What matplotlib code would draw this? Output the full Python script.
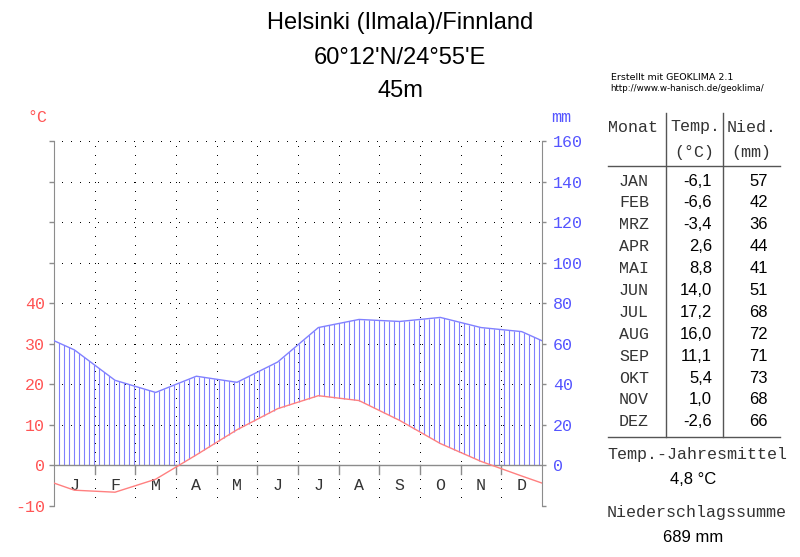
import numpy as np
import matplotlib
matplotlib.use("Agg")
import matplotlib.pyplot as plt
from matplotlib.lines import Line2D

# ---------------- data ----------------
months_short = ["J", "F", "M", "A", "M", "J", "J", "A", "S", "O", "N", "D"]
months_table = ["JAN", "FEB", "MRZ", "APR", "MAI", "JUN", "JUL", "AUG", "SEP", "OKT", "NOV", "DEZ"]
temp = [-6.1, -6.6, -3.4, 2.6, 8.8, 14.0, 17.2, 16.0, 11.1, 5.4, 1.0, -2.6]
precip = [57, 42, 36, 44, 41, 51, 68, 72, 71, 73, 68, 66]
temp_labels = ["-6,1", "-6,6", "-3,4", "2,6", "8,8", "14,0", "17,2", "16,0", "11,1", "5,4", "1,0", "-2,6"]
title_lines = ["Helsinki (Ilmala)/Finnland", "60°12'N/24°55'E", "45m"]
annual_temp = "4,8 °C"
annual_precip = "689 mm"
left_ticks = [-10, 0, 10, 20, 30, 40, 50, 60, 70, 80]
left_labels = ["-10", "0", "10", "20", "30", "40", "", "", "", ""]
right_ticks = [-20, 0, 20, 40, 60, 80, 100, 120, 140, 160]
right_labels = ["", "0", "20", "40", "60", "80", "100", "120", "140", "160"]

# ---------------- style ----------------
W, H = 800, 557
MONO = "Liberation Mono"
SANS = "Liberation Sans"
RED = "#ff8080"
BLUE = "#8080ff"
RED_TXT = "#ff5555"
BLUE_TXT = "#5555ff"
GRAY = "#8c8c8c"

def fx(px):
    return px / W

def fy(py):
    return 1 - py / H

fig = plt.figure(figsize=(8, 5.57), dpi=100)
fig.patch.set_facecolor("white")

left_px, right_px, top_px, bot_px = 54, 542, 141, 506
ax = fig.add_axes([fx(left_px), fy(bot_px), (right_px - left_px) / W, (bot_px - top_px) / H])
ax.set_xlim(0, 12)
ax.set_ylim(-10, 80)
ax.patch.set_alpha(0)

# curves through mid-month, extended to edges
x_mid = np.arange(12) + 0.5
t_edge = (temp[0] + temp[-1]) / 2
p_edge = (precip[0] + precip[-1]) / 2
xc = np.concatenate([[0], x_mid, [12]])
tc = np.concatenate([[t_edge], temp, [t_edge]])
pc = np.concatenate([[p_edge], precip, [p_edge]]) / 2.0  # 20 mm = 10 °C

# grid (dotted)
dash_kw = dict(color="black", lw=0.72, dashes=(1, 9), antialiased=False, zorder=1)
for yv in left_ticks:
    if yv == 0:
        continue
    ax.plot([0.2, 12], [yv, yv], **dash_kw)
for m in range(1, 12):
    ax.plot([m, m], [-10, 80], **dash_kw)

# hatching (humid period)
step = 12 * 5 / (right_px - left_px)
xh = np.arange(step, 12 - 1e-6, step)
top_h = np.interp(xh, xc, pc)
bot_h = np.maximum(np.interp(xh, xc, tc), 0)
mask = top_h > bot_h
ax.vlines(xh[mask], bot_h[mask], top_h[mask], color=BLUE, lw=0.8, zorder=2)

# zero line and month ticks
ax.plot([0, 12], [0, 0], color=GRAY, lw=1, zorder=3)
for m in range(1, 12):
    ax.plot([m, m], [0, -2], color=GRAY, lw=1, zorder=3)

# curves
ax.plot(xc, pc, color=BLUE, lw=1, zorder=4)
ax.plot(xc, tc, color=RED, lw=1, zorder=4)

# month letters
for i, lab in enumerate(months_short):
    ax.text(x_mid[i], -5, lab, ha="center", va="center", family=MONO,
            fontsize=12, color="#333333")

# axes
for s in ["top", "bottom"]:
    ax.spines[s].set_visible(False)
ax.spines["left"].set_color(GRAY)
ax.spines["right"].set_visible(False)
ax.set_xticks([])
ax.set_yticks(left_ticks)
ax.set_yticklabels(left_labels)
ax.tick_params(axis="y", direction="out", length=3.6, width=1, color=GRAY,
               pad=3, labelcolor=RED_TXT, labelsize=12)
for t in ax.get_yticklabels():
    t.set_family(MONO)

ax2 = ax.twinx()
ax2.set_ylim(-20, 160)
ax2.set_xlim(0, 12)
for s in ["top", "bottom", "left"]:
    ax2.spines[s].set_visible(False)
ax2.spines["right"].set_color(GRAY)
ax2.set_yticks(right_ticks)
ax2.set_yticklabels(right_labels)
ax2.tick_params(axis="y", direction="out", length=3, width=1, color=GRAY,
                pad=5, labelcolor=BLUE_TXT, labelsize=12)
for t in ax2.get_yticklabels():
    t.set_family(MONO)

# axis unit labels
fig.text(fx(37), fy(117), "°C", ha="center", va="center", family=MONO, fontsize=12, color=RED_TXT)
fig.text(fx(561), fy(117), "mm", ha="center", va="center", family=MONO, fontsize=12, color=BLUE_TXT)

# title
for yy, line in zip([23, 58, 91], title_lines):
    fig.text(fx(400), fy(yy), line, ha="center", va="center", family=SANS, fontsize=17, color="black")

# credit
fig.text(fx(611), fy(77), "Erstellt mit GEOKLIMA 2.1", ha="left", va="center", family="DejaVu Sans", fontsize=6.8, color="black")
fig.text(fx(610), fy(89), "http://www.w-hanisch.de/geoklima/", ha="left", va="center", family="DejaVu Sans", fontsize=6.3, color="black")

# table
TXT = "#333333"
fig.text(fx(608), fy(127), "Monat", ha="left", va="center", family=MONO, fontsize=12, color=TXT)
fig.text(fx(695), fy(127), "Temp.", ha="center", va="center", family=MONO, fontsize=12, color=TXT)
fig.text(fx(752), fy(127), "Nied.", ha="center", va="center", family=MONO, fontsize=12, color=TXT)
fig.text(fx(694), fy(152), "(°C)", ha="center", va="center", family=MONO, fontsize=12, color=TXT)
fig.text(fx(751), fy(152), "(mm)", ha="center", va="center", family=MONO, fontsize=12, color=TXT)

line_kw = dict(color="#555555", lw=1)
fig.add_artist(Line2D([fx(665.5), fx(665.5)], [fy(113), fy(437)], **line_kw))
fig.add_artist(Line2D([fx(722.5), fx(722.5)], [fy(113), fy(437)], **line_kw))
fig.add_artist(Line2D([fx(608), fx(780)], [fy(166), fy(166)], **line_kw))
fig.add_artist(Line2D([fx(608), fx(780)], [fy(437), fy(437)], **line_kw))

row0, drow = 181, 21.9
for i in range(12):
    yy = row0 + i * drow
    fig.text(fx(634), fy(yy), months_table[i], ha="center", va="center", family=MONO, fontsize=12, color=TXT)
    fig.text(fx(712), fy(yy), temp_labels[i], ha="right", va="center", family=SANS, fontsize=12, color="black")
    fig.text(fx(768), fy(yy), str(precip[i]), ha="right", va="center", family=SANS, fontsize=12, color="black")

fig.text(fx(697), fy(455), "Temp.-Jahresmittel", ha="center", va="center", family=MONO, fontsize=12, color=TXT)
fig.text(fx(693), fy(480), annual_temp, ha="center", va="center", family=SANS, fontsize=12, color="black")
fig.text(fx(697), fy(513), "Niederschlagssumme", ha="center", va="center", family=MONO, fontsize=12, color=TXT)
fig.text(fx(693), fy(537), annual_precip, ha="center", va="center", family=SANS, fontsize=12, color="black")

fig.savefig("out.png", dpi=100, facecolor="white")
